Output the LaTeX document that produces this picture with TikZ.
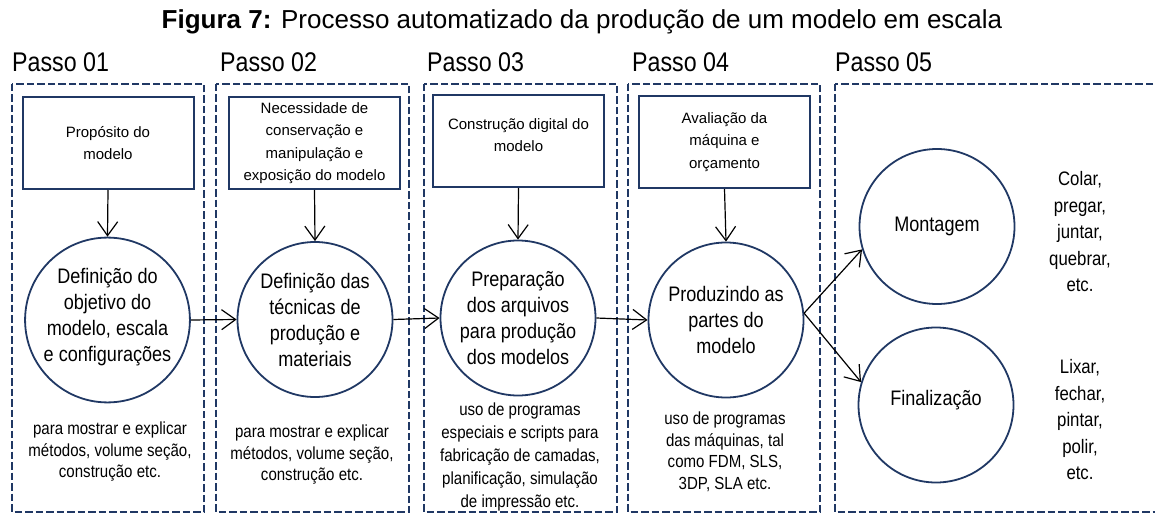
\documentclass[tikz,border=0pt]{standalone}
\usepackage{fontspec}
\setmainfont{Liberation Sans}
\newfontfamily\condfont{Liberation Sans}[FakeStretch=0.86]
\usetikzlibrary{arrows.meta}
\definecolor{navy}{HTML}{203864}

\begin{document}
\begin{tikzpicture}[x=1pt,y=-1pt,
  frame/.style={draw=navy,line width=2pt,dash pattern=on 7.5pt off 3pt},
  passo/.style={anchor=west,inner sep=0pt,font=\condfont\fontsize{27}{30}\selectfont},
  caixa/.style={draw=navy,line width=2pt,minimum width=171pt,minimum height=92pt,inner sep=2pt,align=center,font=\fontsize{15}{22.5}\selectfont},
  etapa/.style={circle,draw=navy,line width=1.8pt,minimum size=155pt,inner sep=0pt,align=center,font=\condfont\fontsize{21}{26}\selectfont},
  nota/.style={align=center,inner sep=0pt,font=\condfont\fontsize{17.5}{21.5}\selectfont},
  lista/.style={align=center,inner sep=0pt,font=\condfont\fontsize{19.5}{26.5}\selectfont},
  seta/.style={-{Straight Barb[length=14pt,width=20pt]},line width=1.2pt}]

  \clip (0,0) rectangle (1155,513);

  % titulo
  \node (titulo) at (582,22) {\fontsize{26}{30}\selectfont\textbf{Figura 7:} Processo automatizado da produção de um modelo em escala};

  % passos
  \draw[frame] (12,84) rectangle (204,512);
  \draw[frame] (216,84) rectangle (409,512);
  \draw[frame] (424,84) rectangle (617,512);
  \draw[frame] (628,84) rectangle (820,512);
  \draw[frame] (835,84) rectangle (1175,512);
  \node[passo] (p1) at (12,62) {Passo 01};
  \node[passo] (p2) at (220,62) {Passo 02};
  \node[passo] (p3) at (427,62) {Passo 03};
  \node[passo] (p4) at (632,62) {Passo 04};
  \node[passo] (p5) at (835,62) {Passo 05};

  % caixas
  \node[caixa] (b1) at (108,143) {Propósito do\\modelo};
  \node[caixa] (b2) at (314.5,143) {Necessidade de\\conservação e\\manipulação e\\exposição do modelo};
  \node[caixa] (b3) at (518.5,141) {Construção digital do\\modelo\\[-10.5pt]};
  \node[caixa] (b4) at (724.5,142) {Avaliação da\\máquina e\\orçamento};

  % etapas
  \node[etapa] (c1) at (107.5,320) {Definição do\\objetivo do\\modelo, escala\\e configurações\\[-15pt]};
  \node[etapa] (c2) at (315,319.5) {Definição das\\técnicas de\\produção e\\materiais};
  \node[etapa] (c3) at (518,318) {Preparação\\dos arquivos\\para produção\\dos modelos};
  \node[etapa] (c4) at (726,320) {Produzindo as\\partes do\\modelo};
  \node[etapa] (mont) at (937,226.5) {Montagem};
  \node[etapa] (fin) at (936,405) {Finalização\\[-12pt]};

  % notas
  \node[nota] (t1) at (110,452) {para mostrar e explicar\\métodos, volume seção,\\construção etc.};
  \node[nota] (t2) at (312,455) {para mostrar e explicar\\métodos, volume seção,\\construção etc.};
  \node[nota, font=\condfont\fontsize{17.5}{23}\selectfont] (t3) at (520,457) {uso de programas\\especiais e scripts para\\fabricação de camadas,\\planificação, simulação\\de impressão etc.};
  \node[nota] (t4) at (725,452) {uso de programas\\das máquinas, tal\\como FDM, SLS,\\3DP, SLA etc.};
  \node[lista] (l1) at (1080,232) {Colar,\\pregar,\\juntar,\\quebrar,\\etc.};
  \node[lista] (l2) at (1080,420) {Lixar,\\fechar,\\pintar,\\polir,\\etc.};

  % setas
  \draw[seta] (b1.south) -- (c1.north);
  \draw[seta] (b2.south) -- (c2.north);
  \draw[seta] (b3.south) -- (c3.north);
  \draw[seta] (b4.south) -- (c4.north);
  \draw[seta] (c1.east) -- (c2.west);
  \draw[seta] (c2.east) -- (c3.west);
  \draw[seta] (c3.east) -- (c4.west);
  \draw[seta] (c4.5) -- (mont.197);
  \draw[seta] (c4.5) -- (fin.163);
\end{tikzpicture}
\end{document}
